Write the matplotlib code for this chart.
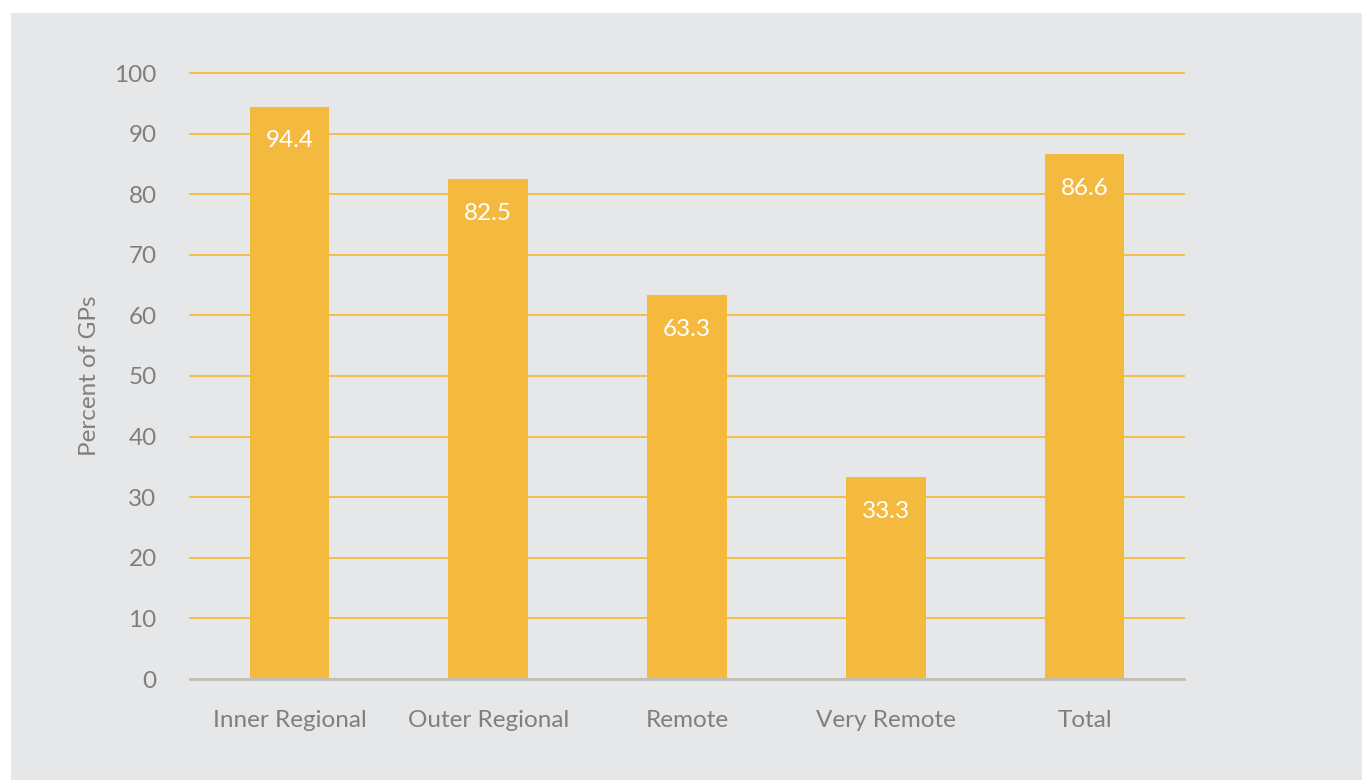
import matplotlib.pyplot as plt
from matplotlib.patches import Rectangle

# Chart data
categories = ['Inner Regional', 'Outer Regional', 'Remote', 'Very Remote', 'Total']
percent = [94.4, 82.5, 63.3, 33.3, 86.6]
yticks = [0, 10, 20, 30, 40, 50, 60, 70, 80, 90, 100]

bar_color = '#F3BA3F'
bg_color = '#E6E7E9'
text_color = '#7F7F7F'

plt.rcParams['font.family'] = ['Lato', 'DejaVu Sans']

fig = plt.figure(figsize=(13.62, 7.80), dpi=100)
fig.patch.set_facecolor('white')
# gray panel behind the chart
fig.patches.append(Rectangle((11 / 1362, 0), 1, (780 - 13) / 780,
                             transform=fig.transFigure, facecolor=bg_color,
                             edgecolor='none', zorder=-10))

ax = fig.add_axes([190 / 1362, 101 / 780, 994 / 1362, 606 / 780])
ax.set_facecolor('none')

x = range(len(categories))
bars = ax.bar(x, percent, width=0.4, color=bar_color, zorder=3)

for i, v in enumerate(percent):
    ax.annotate(f'{v}', (i, v), xytext=(0, -24.5), textcoords='offset points',
                ha='center', va='center', color='white', fontsize=17.5, zorder=4)

ax.set_xlim(-0.5, len(categories) - 0.5)
ax.set_ylim(0, 100)
ax.set_yticks(yticks)
ax.set_xticks(list(x))
ax.set_xticklabels(categories)
ax.yaxis.grid(True, color=bar_color, linewidth=1.3, zorder=1)
for gl in ax.get_ygridlines():
    gl.set_clip_on(False)
ax.set_axisbelow(True)

for side in ['top', 'right', 'left']:
    ax.spines[side].set_visible(False)
ax.spines['bottom'].set_color('#BFBFBF')
ax.spines['bottom'].set_linewidth(2)
ax.spines['bottom'].set_zorder(5)

ax.tick_params(axis='both', length=0, colors=text_color, labelsize=17.5)
ax.tick_params(axis='y', pad=24)
ax.tick_params(axis='x', pad=22)
ax.set_ylabel('Percent of GPs', color=text_color, fontsize=17.5, labelpad=10)

fig.savefig('out.png', dpi=100, facecolor=fig.get_facecolor())
